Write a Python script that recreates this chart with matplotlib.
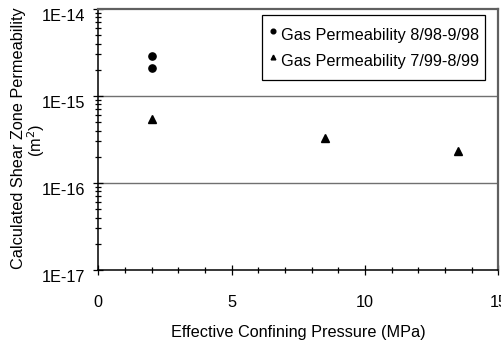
import matplotlib
matplotlib.use("Agg")
import matplotlib.pyplot as plt
from matplotlib.ticker import LogLocator, FixedLocator, FuncFormatter, NullFormatter, MultipleLocator
from matplotlib.transforms import ScaledTranslation

plt.rcParams['font.family'] = ['Liberation Sans', 'DejaVu Sans']

# Data
pressure_98 = [2, 2]
perm_98 = [2.9e-15, 2.1e-15]
pressure_99 = [2, 8.5, 13.5]
perm_99 = [5.4e-16, 3.3e-16, 2.33e-16]
label_98 = "Gas Permeability 8/98-9/98"
label_99 = "Gas Permeability 7/99-8/99"
x_ticks = [0, 5, 10, 15]
y_ticks = [1e-17, 1e-16, 1e-15, 1e-14]
y_tick_labels = ["1E-17", "1E-16", "1E-15", "1E-14"]

FS = 11.7

fig = plt.figure(figsize=(5.02, 3.42), dpi=100)
ax = fig.add_axes([98.3 / 502, 1 - 270 / 342, (498.5 - 98.3) / 502, (270 - 9) / 342])

ax.plot(pressure_98, perm_98, linestyle='none', marker='o', color='black',
        markersize=5.2, label=label_98, zorder=3)
ax.plot(pressure_99, perm_99, linestyle='none', marker='^', color='black',
        markersize=5.2, label=label_99, zorder=3)

ax.set_yscale('log')
ax.set_xlim(0, 15)
ax.set_ylim(1e-17, 1e-14)

ax.yaxis.set_major_locator(FixedLocator(y_ticks))
ax.yaxis.set_major_formatter(FuncFormatter(
    lambda v, p: y_tick_labels[y_ticks.index(min(y_ticks, key=lambda t: abs(t - v)))]))
ax.yaxis.set_minor_locator(LogLocator(base=10, subs=range(2, 10)))
ax.yaxis.set_minor_formatter(NullFormatter())
ax.xaxis.set_major_locator(FixedLocator(x_ticks))
ax.xaxis.set_minor_locator(MultipleLocator(1))

# grid at decades
for v in [1e-16, 1e-15]:
    ax.axhline(v, color='#707070', lw=1.0, zorder=1)

for s in ['left', 'bottom']:
    ax.spines[s].set_color('black')
    ax.spines[s].set_linewidth(1.1)
for s in ['top', 'right']:
    ax.spines[s].set_color('#606060')
    ax.spines[s].set_linewidth(1.6)

ax.tick_params(axis='both', which='major', direction='inout', length=6.5, width=0.9,
               labelsize=FS, color='black')
ax.tick_params(axis='both', which='minor', direction='inout', length=4.8, width=0.9, color='black')
ax.tick_params(axis='y', which='major', pad=6.5)
ax.tick_params(axis='x', which='major', pad=14.5)
ax.tick_params(top=False, right=False, which='both')

# y tick labels sit slightly below their ticks in the reference
shift = ScaledTranslation(0, -4.0 / 72, fig.dpi_scale_trans)
for lab in ax.get_yticklabels():
    lab.set_transform(lab.get_transform() + shift)

ax.set_xlabel("Effective Confining Pressure (MPa)", fontsize=FS, va='center')
ax.xaxis.set_label_coords(0.5, -(332 - 270) / 261)

fig.text(19 / 502, 1 - 138.5 / 342, "Calculated Shear Zone Permeability",
         rotation=90, ha='center', va='center', fontsize=FS)
fig.text(36 / 502, 1 - 140 / 342, "(m$^2$)",
         rotation=90, ha='center', va='center', fontsize=FS)

leg = ax.legend(loc='upper right', bbox_to_anchor=(485.5 / 502, 1 - 15 / 342),
                bbox_transform=fig.transFigure, borderaxespad=0, fontsize=FS,
                frameon=True, fancybox=False, edgecolor='black', framealpha=1,
                numpoints=1, markerscale=0.65, handlelength=0.52, handletextpad=0.22,
                handleheight=2.0, borderpad=0.42, labelspacing=0.1)
leg.get_frame().set_linewidth(0.9)

fig.savefig("out.png", dpi=100)
